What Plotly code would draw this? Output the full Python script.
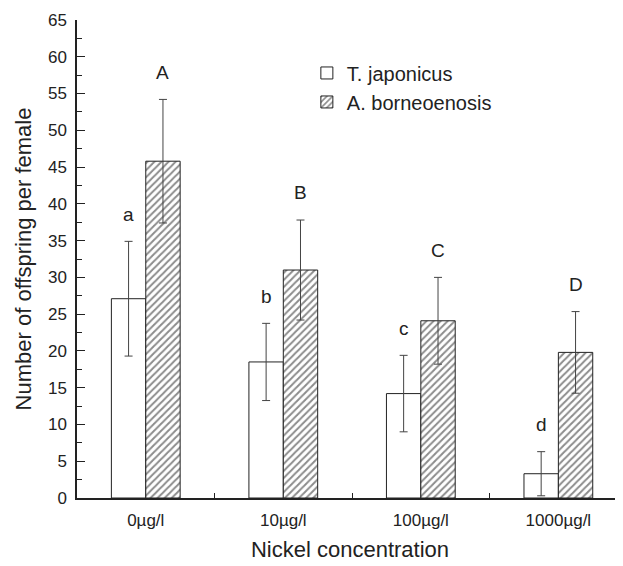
import plotly.graph_objects as go

categories = ["0µg/l", "10µg/l", "100µg/l", "1000µg/l"]
t_japonicus = [27.1, 18.5, 14.2, 3.3]
t_japonicus_err = [7.8, 5.25, 5.2, 3.0]
a_borneo = [45.8, 31.0, 24.1, 19.8]
a_borneo_err = [8.4, 6.8, 5.9, 5.55]
letters_t = ["a", "b", "c", "d"]
letters_a = ["A", "B", "C", "D"]
y_ticks = list(range(0, 70, 5))

FONT = "Liberation Sans, Arial, Helvetica, sans-serif"

fig = go.Figure()
fig.add_trace(go.Bar(
    name="T. japonicus", x=categories, y=t_japonicus,
    marker=dict(color="white", line=dict(color="#222", width=1)),
    error_y=dict(type="data", array=t_japonicus_err, visible=True,
                 color="#444", thickness=1, width=4),
))
fig.add_trace(go.Bar(
    name="A. borneoenosis", x=categories, y=a_borneo,
    marker=dict(color="white", line=dict(color="#222", width=1),
                pattern=dict(shape="/", fgcolor="#1a1a1a", bgcolor="white",
                             size=5, solidity=0.4)),
    error_y=dict(type="data", array=a_borneo_err, visible=True,
                 color="#444", thickness=1, width=4),
))

offset = 3.7
annotations = []
for i in range(len(categories)):
    annotations.append(dict(x=i - 0.125, y=t_japonicus[i] + t_japonicus_err[i] + offset,
                            text=letters_t[i], xref="x", yref="y", showarrow=False,
                            yanchor="middle", font=dict(size=19, color="#222", family=FONT)))
    annotations.append(dict(x=i + 0.125, y=a_borneo[i] + a_borneo_err[i] + offset,
                            text=letters_a[i], xref="x", yref="y", showarrow=False,
                            yanchor="middle", font=dict(size=19, color="#222", family=FONT)))

# page body has an 8px margin, so the figure is sized to fill the rest
fig.update_layout(
    width=615, height=558,
    margin=dict(l=69, r=0, t=12, b=68, autoexpand=False),
    paper_bgcolor="white", plot_bgcolor="white",
    barmode="group", bargap=0.5, bargroupgap=0,
    font=dict(family=FONT, color="#222", size=17),
    annotations=annotations,
    showlegend=True,
    legend=dict(x=0.421, y=0.93, xanchor="left", yanchor="top",
                bgcolor="rgba(0,0,0,0)", font=dict(size=20, family=FONT),
                itemwidth=30, tracegroupgap=0),
)
fig.update_xaxes(
    type="category", range=[-0.5, 3.47], automargin=False,
    showline=True, linecolor="#222", linewidth=1.5,
    ticks="inside", tickson="boundaries", ticklen=5, tickcolor="#222",
    tickfont=dict(size=17), ticklabelstandoff=6, showgrid=False, zeroline=False,
    title=dict(text="Nickel concentration", font=dict(size=22), standoff=12),
)
fig.update_yaxes(
    range=[0, 65], tickvals=y_ticks, automargin=False,
    showline=True, linecolor="#222", linewidth=1.5,
    ticks="inside", ticklen=8, tickcolor="#222",
    minor=dict(ticks="inside", ticklen=5, dtick=2.5, tick0=0, tickcolor="#222"),
    tickfont=dict(size=17), ticklabelstandoff=5, showgrid=False, zeroline=False,
    title=dict(text="Number of offspring per female", font=dict(size=22), standoff=10),
)

fig.write_html("out.html")
